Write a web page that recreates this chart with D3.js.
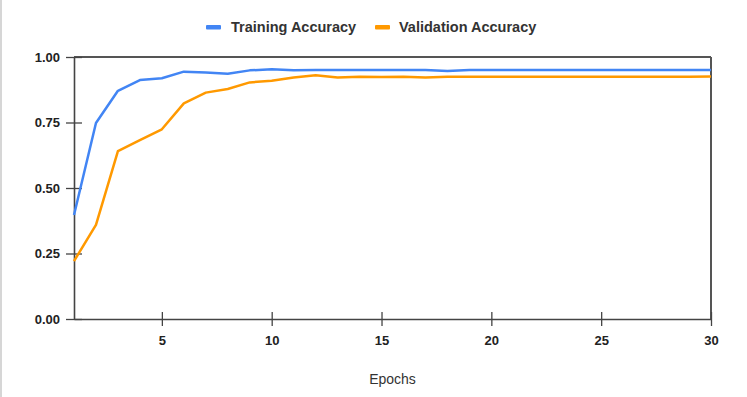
<!DOCTYPE html>
<html><head><meta charset="utf-8">
<script src="https://cdn.jsdelivr.net/npm/d3@7"></script>
<style>
html,body{margin:0;padding:0;background:#fff;}
svg{display:block;}
</style></head>
<body>
<svg id="chart" width="747" height="397"></svg>
<script>
const epochs = d3.range(1, 31);
const trainingAccuracy = [0.397,0.748,0.871,0.912,0.919,0.944,0.941,0.936,0.949,0.953,
  0.949,0.950,0.950,0.950,0.950,0.950,0.950,0.947,0.950,0.950,
  0.950,0.950,0.950,0.950,0.950,0.950,0.950,0.950,0.950,0.950];
const validationAccuracy = [0.221,0.359,0.641,0.683,0.724,0.823,0.864,0.878,0.903,0.909,
  0.922,0.930,0.922,0.925,0.924,0.925,0.922,0.925,0.925,0.925,
  0.925,0.925,0.925,0.925,0.925,0.925,0.925,0.925,0.925,0.926];
const xTicks = [5,10,15,20,25,30];
const yTicks = [0,0.25,0.5,0.75,1.0];
const seriesNames = ["Training Accuracy","Validation Accuracy"];
const seriesColors = ["#4285f4","#ff9900"];
const xLabel = "Epochs";

const svg = d3.select("#chart");
const W = 747, H = 397;
const L = 74, R = 711, T = 57, B = 319;
const x = d3.scaleLinear().domain([1,30]).range([L,R]);
const y = d3.scaleLinear().domain([0,1]).range([B,T]);
const font = "'Liberation Sans', Arial, sans-serif";

// outer left border
svg.append("line").attr("x1",1).attr("x2",1).attr("y1",0).attr("y2",H)
  .attr("stroke","#c8c8c8").attr("stroke-width",1.5);

// frame top and right
svg.append("line").attr("x1",L).attr("x2",R).attr("y1",T).attr("y2",T)
  .attr("stroke","#555").attr("stroke-width",2);
svg.append("line").attr("x1",R).attr("x2",R).attr("y1",T).attr("y2",B)
  .attr("stroke","#555").attr("stroke-width",2);

// axes
const xAxis = svg.append("g").attr("transform",`translate(0,${B})`)
  .call(d3.axisBottom(x).tickValues(xTicks).tickFormat(d3.format("d")).tickSizeInner(7).tickSizeOuter(0));
const yAxis = svg.append("g").attr("transform",`translate(${L},0)`)
  .call(d3.axisLeft(y).tickValues(yTicks).tickFormat(d3.format(".2f")).tickSizeInner(7).tickSizeOuter(0));
[xAxis,yAxis].forEach(g=>{
  g.select(".domain").attr("stroke","#444").attr("stroke-width",1.6);
  g.selectAll(".tick line").attr("stroke","#444").attr("stroke-width",1.3);
  g.selectAll("text").attr("font-family",font).attr("font-size",13).attr("font-weight","bold").attr("fill","#222");
});
// ticks crossing axis
xAxis.selectAll(".tick line").attr("y1",-7).attr("y2",7);
xAxis.selectAll("text").attr("y",17);
yAxis.selectAll(".tick line").attr("x1",-8).attr("x2",8);
yAxis.selectAll("text").attr("x",-14);

// lines
const series = [trainingAccuracy, validationAccuracy];
const line = d3.line().x((d,i)=>x(epochs[i])).y(d=>y(d));
series.forEach((s,i)=>{
  svg.append("path").datum(s).attr("d",line).attr("fill","none")
    .attr("stroke",seriesColors[i]).attr("stroke-width",2.5).attr("stroke-linejoin","round");
});

// legend
const legX = [206, 375];
const legTextX = [231, 399];
seriesNames.forEach((n,i)=>{
  svg.append("rect").attr("x",legX[i]).attr("y",25).attr("width",15).attr("height",4.5)
    .attr("rx",1).attr("fill",seriesColors[i]);
  svg.append("text").attr("x",legTextX[i]).attr("y",27).attr("dy","0.35em")
    .attr("font-family",font).attr("font-size",14.5).attr("font-weight","bold").attr("fill","#333")
    .text(n);
});

// x label
svg.append("text").attr("x",(L+R)/2).attr("y",379).attr("dy","0.35em").attr("text-anchor","middle")
  .attr("font-family",font).attr("font-size",14).attr("fill","#333").text(xLabel);
</script>
</body></html>
